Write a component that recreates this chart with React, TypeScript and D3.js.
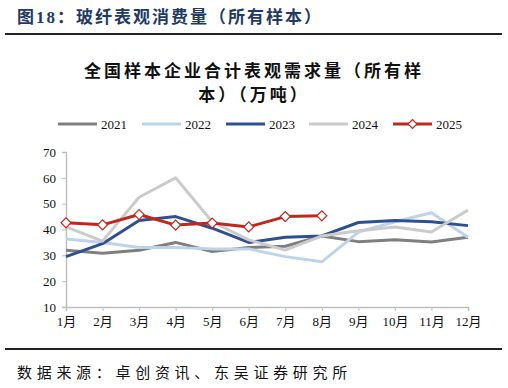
import React, { useEffect, useRef } from 'react';
import * as d3 from 'd3';

const months = ['1月', '2月', '3月', '4月', '5月', '6月', '7月', '8月', '9月', '10月', '11月', '12月'];
const yTicks = [10, 20, 30, 40, 50, 60, 70];

const v2021 = [32, 30.8, 32, 35, 31.5, 33, 33.5, 37.5, 35.3, 36, 35.2, 37];
const v2022 = [36.3, 35, 33, 33, 32.5, 32.5, 29.5, 27.5, 39, 43, 46.5, 37];
const v2023 = [29.5, 34.5, 43.5, 45, 40.5, 35, 37, 37.5, 42.7, 43.5, 43, 41.5];
const v2024 = [41, 35.5, 52.5, 60, 43, 36, 32, 37.5, 39.5, 41, 39, 47.5];
const v2025 = [42.6, 41.8, 45.8, 41.7, 42.5, 41, 45, 45.3];

const series = [
  { name: '2021', values: v2021, color: '#7f7f7f', marker: false },
  { name: '2022', values: v2022, color: '#bdd3ec', marker: false },
  { name: '2023', values: v2023, color: '#2f5090', marker: false },
  { name: '2024', values: v2024, color: '#cbcbcb', marker: false },
  { name: '2025', values: v2025, color: '#c0281e', marker: true },
];

const legendX = [58, 142, 226, 309, 393];

const App: React.FC = () => {
  const svgRef = useRef<SVGSVGElement>(null);

  useEffect(() => {
    const svg = d3.select(svgRef.current);
    svg.selectAll('*').remove();

    const serif = '"Liberation Serif", "Times New Roman", serif';
    const cjk = '"Noto Sans CJK SC", sans-serif';
    const diamond = d3.symbol(d3.symbolSquare, 50)();

    // header
    svg.append('text')
      .attr('x', 17).attr('y', 23)
      .attr('font-family', '"Liberation Serif", "Noto Sans CJK SC", serif')
      .attr('font-weight', 'bold').attr('font-size', 17)
      .attr('letter-spacing', 2)
      .attr('fill', '#1f3a64')
      .text('图18：玻纤表观消费量（所有样本）');
    svg.append('line')
      .attr('x1', 5).attr('x2', 502).attr('y1', 34).attr('y2', 34)
      .attr('stroke', '#222').attr('stroke-width', 2);

    // chart title
    const title = svg.append('text')
      .attr('font-family', cjk).attr('font-weight', 'bold').attr('font-size', 17)
      .attr('letter-spacing', 3)
      .attr('fill', '#111').attr('text-anchor', 'middle');
    title.append('tspan').attr('x', 254).attr('y', 77).text('全国样本企业合计表观需求量（所有样');
    title.append('tspan').attr('x', 254).attr('y', 101).text('本）（万吨）');

    const x = d3.scalePoint<string>().domain(months).range([66, 468]);
    const y = d3.scaleLinear().domain([10, 70]).range([307, 152]);

    // axes
    const yAxis = svg.append('g')
      .attr('transform', 'translate(66,0)')
      .call(d3.axisLeft(y).tickValues(yTicks).tickSize(4).tickPadding(6));
    const xAxis = svg.append('g')
      .attr('transform', 'translate(0,307)')
      .call(d3.axisBottom(x).tickSize(4).tickPadding(6));
    [xAxis, yAxis].forEach((g) => {
      g.select('.domain').attr('stroke', '#bfbfbf').attr('stroke-width', 1.5);
      g.selectAll('.tick line').attr('stroke', '#bfbfbf');
      g.selectAll('.tick text')
        .attr('font-family', serif).attr('font-size', 13).attr('fill', '#111');
    });
    xAxis.selectAll('.tick text').attr('font-family', '"Liberation Serif", "Noto Sans CJK SC", serif');

    const line = d3.line<number>()
      .x((_, i) => x(months[i]) as number)
      .y((d) => y(d));

    series.forEach((s) => {
      svg.append('path')
        .datum(s.values)
        .attr('d', line)
        .attr('fill', 'none')
        .attr('stroke', s.color)
        .attr('stroke-width', 3)
        .attr('stroke-linejoin', 'round');
      if (s.marker) {
        svg.selectAll(null)
          .data(s.values)
          .enter().append('path')
          .attr('d', diamond)
          .attr('transform', (d, i) => `translate(${x(months[i])},${y(d)}) rotate(45)`)
          .attr('fill', '#fff')
          .attr('stroke', s.color)
          .attr('stroke-width', 1.2);
      }
    });

    // legend
    series.forEach((s, i) => {
      const lx = legendX[i];
      const g = svg.append('g');
      g.append('line')
        .attr('x1', lx).attr('x2', lx + 39).attr('y1', 124).attr('y2', 124)
        .attr('stroke', s.color).attr('stroke-width', 3);
      if (s.marker) {
        g.append('path')
          .attr('d', d3.symbol(d3.symbolSquare, 40)())
          .attr('transform', `translate(${lx + 19.5},124) rotate(45)`)
          .attr('fill', '#fff').attr('stroke', s.color).attr('stroke-width', 1.2);
      }
      g.append('text')
        .attr('x', lx + 43).attr('y', 129)
        .attr('font-family', serif).attr('font-size', 13).attr('fill', '#111')
        .text(s.name);
    });

    // footer
    svg.append('line')
      .attr('x1', 5).attr('x2', 502).attr('y1', 349).attr('y2', 349)
      .attr('stroke', '#222').attr('stroke-width', 2);
    svg.append('text')
      .attr('x', 17).attr('y', 378)
      .attr('font-family', cjk).attr('font-size', 15).attr('letter-spacing', 4.7)
      .attr('fill', '#111')
      .text('数据来源：卓创资讯、东吴证券研究所');
  }, []);

  return (
    <svg ref={svgRef} width={508} height={388}
      style={{ position: 'absolute', left: 0, top: 0, background: '#fff' }} />
  );
};

export default App;
